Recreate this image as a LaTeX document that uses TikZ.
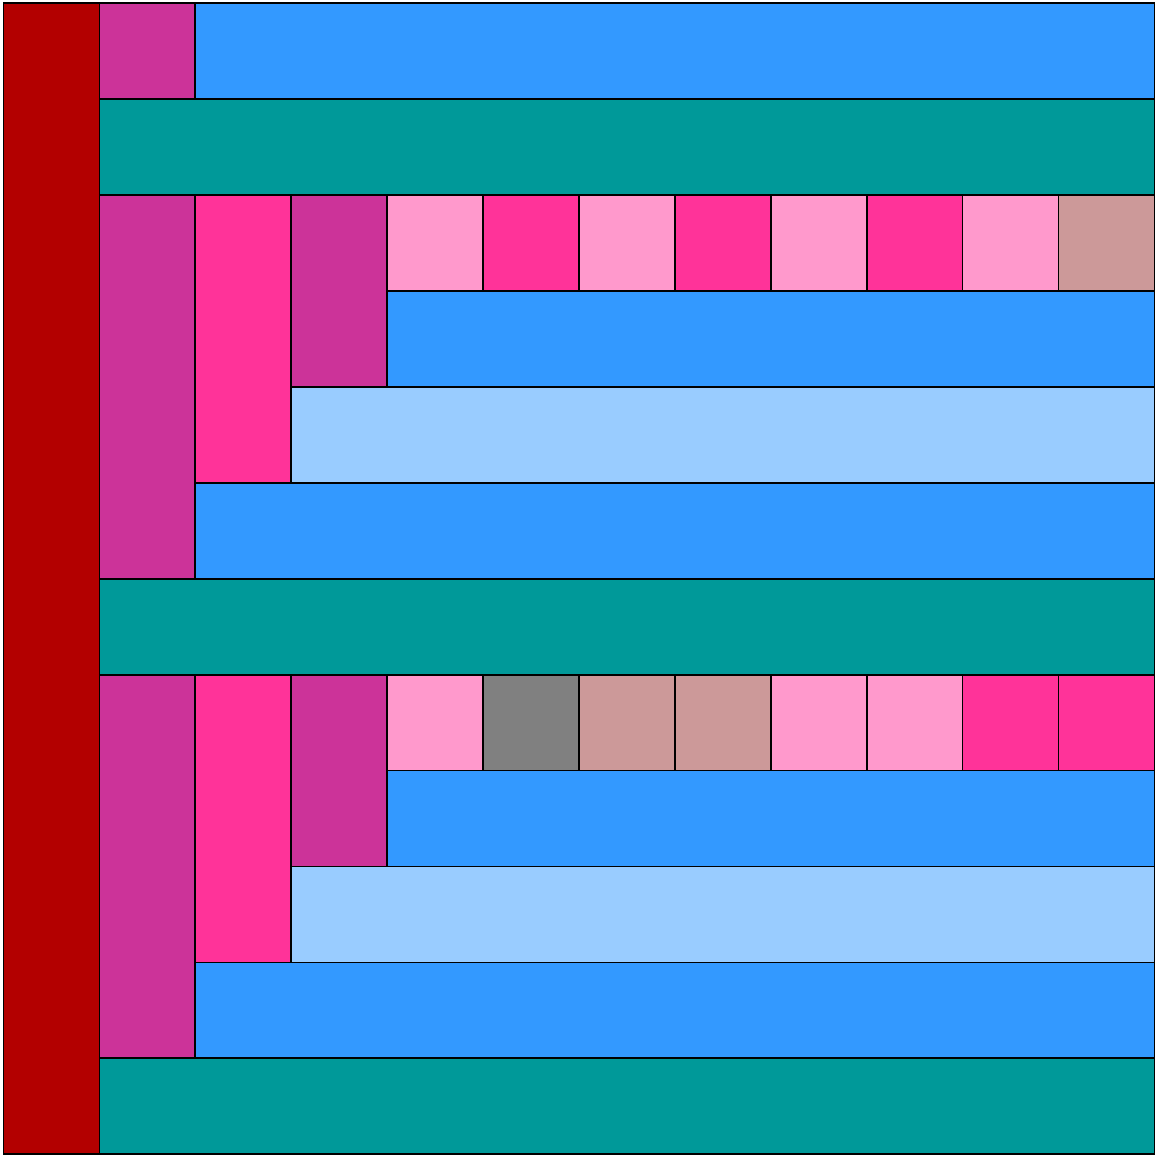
\documentclass[tikz,border=0pt]{standalone}
\usepackage{tikz}
\usetikzlibrary{calc}
\definecolor{stemred}{HTML}{B30000}
\definecolor{plumc}{HTML}{CC3399}
\definecolor{rosec}{HTML}{FF3399}
\definecolor{blushc}{HTML}{FF99CC}
\definecolor{tanc}{HTML}{CC9999}
\definecolor{slatec}{HTML}{808080}
\definecolor{skyc}{HTML}{3399FF}
\definecolor{palec}{HTML}{99CCFF}
\definecolor{tealc}{HTML}{009999}
\tikzset{
	tile/.style={draw=black, line width=0.5pt},
	stem/.style={tile, fill=stemred},
	plum/.style={tile, fill=plumc},
	rose/.style={tile, fill=rosec},
	blush/.style={tile, fill=blushc},
	tan/.style={tile, fill=tanc},
	slate/.style={tile, fill=slatec},
	sky/.style={tile, fill=skyc},
	pale/.style={tile, fill=palec},
	band/.style={tile, fill=tealc}
}
\begin{document}
\begin{tikzpicture}
		% Fixed frame with the small margins
		\useasboundingbox (-0.036,-0.016) rectangle (12.016,12.034);
		
		% Left stem over the whole height
		\draw[stem] (0,0) rectangle (1,12);
		
		% Top row
		\draw[plum] (1,11) rectangle (2,12);
		\draw[sky] (2,11) rectangle (12,12);
		
		% Teal bands
		\foreach \y in {10, 5, 0} {
			\draw[band] (1,\y) rectangle (12,\y+1);
		}
		
		% Two nested blocks, top edge at \t
		\foreach \t in {10, 5} {
			\draw[plum] (1,\t-4) rectangle (2,\t);
			\draw[rose] (2,\t-3) rectangle (3,\t);
			\draw[plum] (3,\t-2) rectangle (4,\t);
			\draw[sky] (4,\t-2) rectangle (12,\t-1);
			\draw[pale] (3,\t-3) rectangle (12,\t-2);
			\draw[sky] (2,\t-4) rectangle (12,\t-3);
		}
		
		% Small squares of the upper block
		\foreach \c/\s in {4/blush, 5/rose, 6/blush, 7/rose, 8/blush, 9/rose, 10/blush, 11/tan} {
			\draw[\s] (\c,9) rectangle ++(1,1);
		}
		% Small squares of the lower block
		\foreach \c/\s in {4/blush, 5/slate, 6/tan, 7/tan, 8/blush, 9/blush, 10/rose, 11/rose} {
			\draw[\s] (\c,4) rectangle ++(1,1);
		}
		
	\end{tikzpicture}
\end{document}
